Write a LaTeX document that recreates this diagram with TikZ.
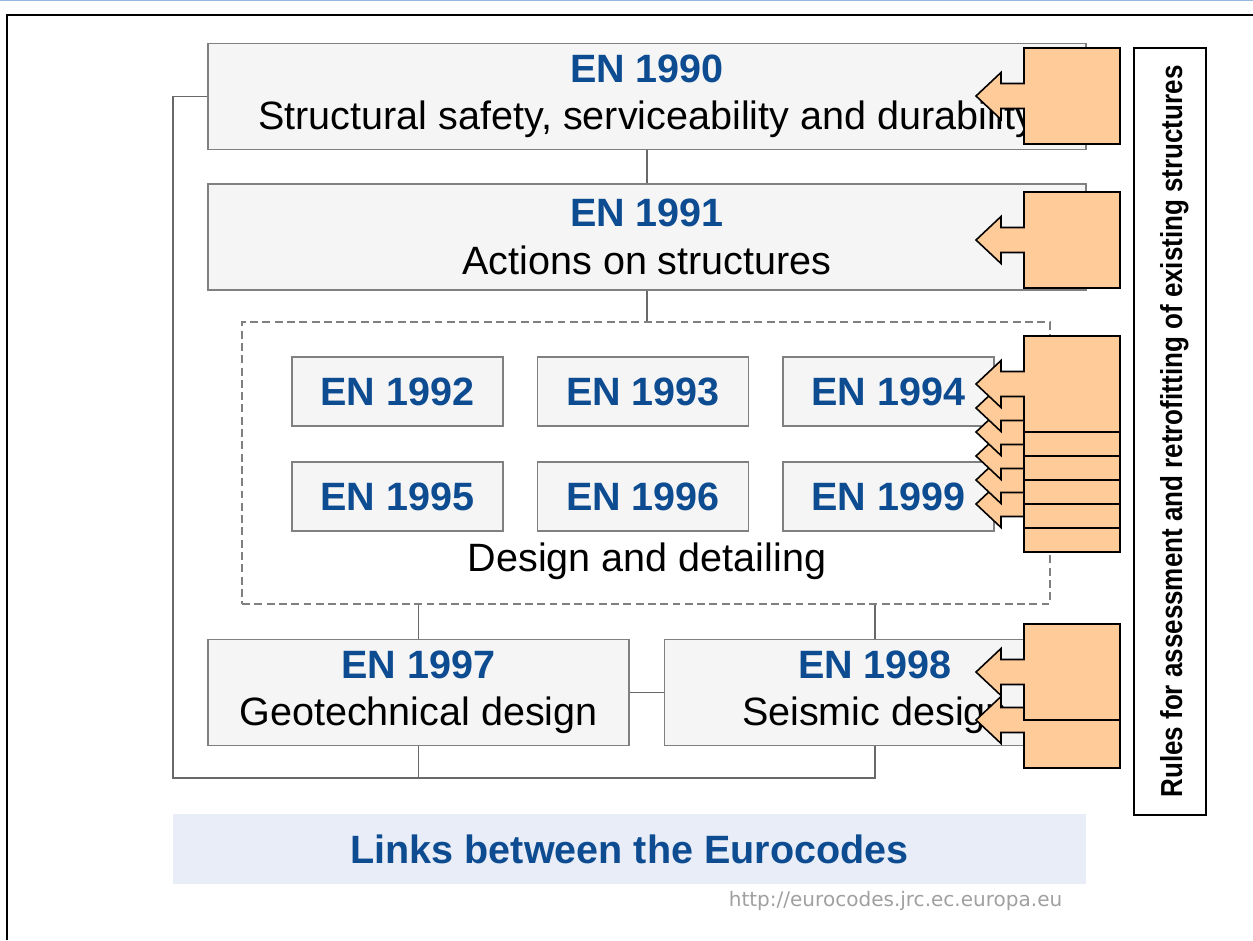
\documentclass[tikz,border=0pt]{standalone}
\usepackage{fontspec}
\setmainfont{Liberation Sans}
\newfontfamily\urlfont{DejaVu Sans}
\newfontfamily\rulesfont[FakeStretch=0.855]{Liberation Sans}

\definecolor{enblue}{RGB}{14,76,146}
\definecolor{boxfill}{RGB}{245,245,245}
\definecolor{boxline}{RGB}{128,128,128}
\definecolor{linkgray}{RGB}{105,105,105}
\definecolor{peach}{RGB}{255,204,153}
\definecolor{bandblue}{RGB}{232,237,247}
\definecolor{urlgray}{RGB}{160,160,160}
\definecolor{topline}{RGB}{150,185,225}

\tikzset{
    codebox/.style={rectangle, draw=boxline, fill=boxfill, line width=0.8pt, inner sep=0pt, align=center, font=\fontsize{22.5}{27}\selectfont},
    bigbox/.style={codebox, minimum width=17.56cm, minimum height=2.12cm},
    halfbox/.style={codebox, minimum width=8.42cm, minimum height=2.12cm},
    partbox/.style={codebox, minimum width=4.22cm, minimum height=1.38cm, text=enblue, font=\fontsize{22.5}{27}\selectfont\bfseries},
    link/.style={draw=linkgray, line width=0.8pt},
    rulecall/.style={draw=black, fill=peach, line width=0.9pt, line join=miter},
}
\newcommand{\en}[1]{{\color{enblue}\bfseries #1}}
% 吹き出し(本体の上端 y を指定)
\newcommand{\rulecallout}[1]{%
    \draw[rulecall] (1024,#1) -- (1120,#1) -- (1120,#1+96) -- (1024,#1+96)
        -- (1024,#1+60.5) -- (1001,#1+60.5) -- (1001,#1+71.5) -- (976,#1+48)
        -- (1001,#1+24.5) -- (1001,#1+35.5) -- (1024,#1+35.5) -- cycle;}

\begin{document}
\begin{tikzpicture}[x=0.02cm, y=-0.02cm]
    \useasboundingbox (0,0) rectangle (1253,940);

    % 枠線
    \draw[topline, line width=0.8pt] (0,0.5) -- (1253,0.5);
    \draw[line width=1.3pt] (7,940) -- (7,15) -- (1253,15);

    % ノードの定義
    \node[bigbox] (en1990) at (647,96.5) {\en{EN 1990}\\Structural safety, serviceability and durability};
    \node[bigbox] (en1991) at (647,237) {\en{EN 1991}\\Actions on structures};
    \node[rectangle, draw=boxline, dash pattern=on 4.5pt off 2.5pt, line width=0.8pt, minimum width=16.16cm, minimum height=5.64cm] (detailing) at (646,463) {};
    \node[partbox] (en1992) at (397.5,391.5) {EN 1992};
    \node[partbox] (en1993) at (643,391.5) {EN 1993};
    \node[partbox] (en1994) at (888.5,391.5) {EN 1994};
    \node[partbox] (en1995) at (397.5,496.5) {EN 1995};
    \node[partbox] (en1996) at (643,496.5) {EN 1996};
    \node[partbox] (en1999) at (888.5,496.5) {EN 1999};
    \node[font=\fontsize{22.5}{27}\selectfont] (design) at (647,561) {Design and detailing};
    \node[halfbox] (en1997) at (418.5,692.5) {\en{EN 1997}\\Geotechnical design};
    \node[halfbox] (en1998) at (875,692.5) {\en{EN 1998}\\Seismic design};
    \coordinate (loop) at (173,778);

    % エッジの定義
    \draw[link] (en1990) -- (en1991);
    \draw[link] (en1991) -- (en1991.south |- detailing.north);
    \draw[link] (en1997.north |- detailing.south) -- (en1997);
    \draw[link] (en1998.north |- detailing.south) -- (en1998);
    \draw[link] (en1997) -- (en1998);
    \draw[link] (en1997.south) -- (en1997.south |- loop);
    \draw[link] (en1998.south) |- (loop) |- (en1990.west);

    % 吹き出し(下から順に重ねる)
    \rulecallout{48}
    \rulecallout{192}
    \rulecallout{456}
    \rulecallout{432}
    \rulecallout{408}
    \rulecallout{384}
    \rulecallout{360}
    \rulecallout{336}
    \rulecallout{672}
    \rulecallout{624}

    % 右側の縦書きラベル
    \node[rectangle, draw, line width=0.9pt, fill=white, rotate=90, minimum width=15.34cm, minimum height=1.44cm, font=\rulesfont\fontsize{17.3}{20}\selectfont\bfseries] (rules) at (1170,431.5) {\raisebox{-2.5pt}[\height][\depth]{Rules for assessment and retrofitting of existing structures}};

    % タイトル
    \node[rectangle, fill=bandblue, minimum width=18.26cm, minimum height=1.4cm, text=enblue, font=\fontsize{22.5}{27}\selectfont\bfseries] (title) at (629.5,849) {Links between the Eurocodes};
    \node[text=urlgray, font=\urlfont\fontsize{11.4}{13}\selectfont] (url) at (895.5,901) {http://eurocodes.jrc.ec.europa.eu};
\end{tikzpicture}
\end{document}
